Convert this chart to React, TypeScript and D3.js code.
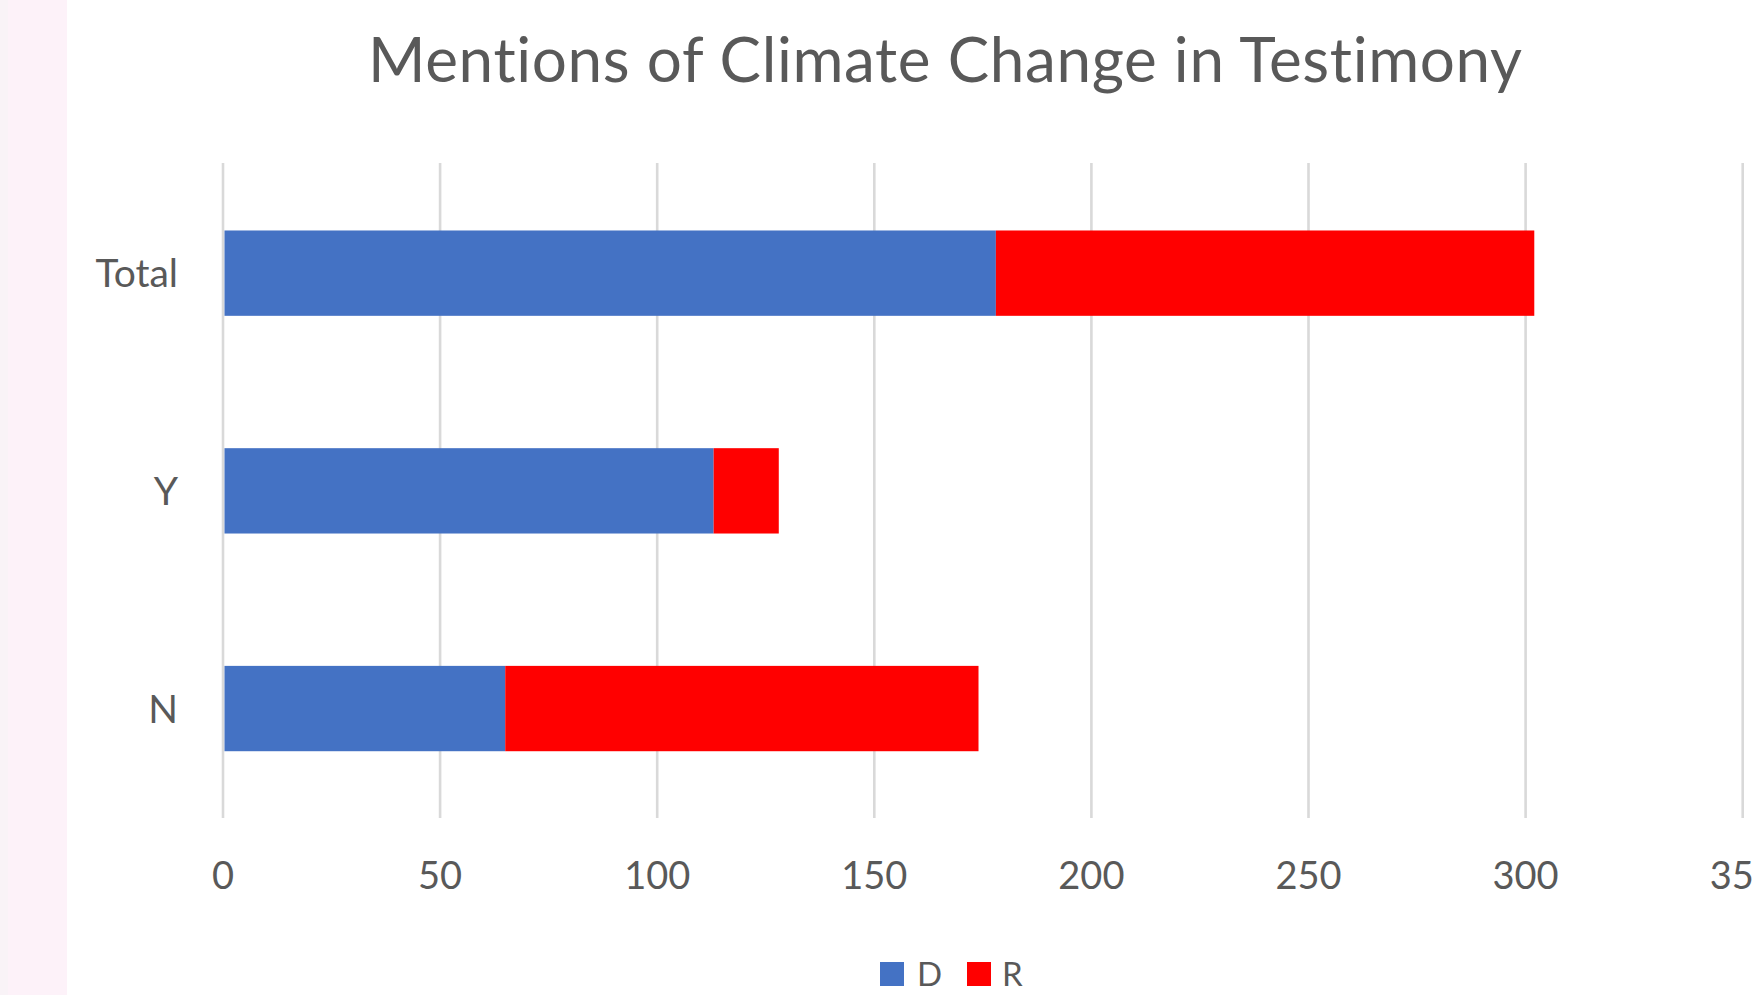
import React from "react";
import * as d3 from "d3";

const categories = ["Total", "Y", "N"];
const seriesNames = ["D", "R"];
const dValues = [178, 113, 65];
const rValues = [124, 15, 109];
const xTicks = [0, 50, 100, 150, 200, 250, 300, 350];
const colors = ["#4472C4", "#FF0000"];

const W = 1753;
const H = 995;
const FONT = "Lato, 'Open Sans', sans-serif";
const TEXT = "#595959";

export default function App() {
  const x = d3.scaleLinear().domain([0, 350]).range([223, 1742.7]);
  const y = d3
    .scaleBand<string>()
    .domain(categories)
    .range([164.3, 817.4])
    .paddingInner(0.608)
    .paddingOuter(0.304);

  const rows = categories.map((c, i) => ({ cat: c, D: dValues[i], R: rValues[i] }));
  const stack = d3.stack<any>().keys(seriesNames)(rows);

  const legendItems = [
    { name: "D", sq: 880, tx: 917 },
    { name: "R", sq: 967, tx: 1002 },
  ];

  return (
    <svg
      width={W}
      height={H}
      style={{
        position: "absolute",
        left: 0,
        top: 0,
        background: "#fff",
        fontVariantLigatures: "none",
        fontFeatureSettings: "'liga' 0",
      }}
      fontFamily={FONT}
    >
      <rect x={0} y={0} width={W} height={H} fill="#ffffff" />
      <rect x={0} y={0} width={67} height={H} fill="#fdf2f9" />
      <rect x={0} y={0} width={8} height={H} fill="#f9f3f7" />

      <text
        x={945}
        y={81.7}
        textAnchor="middle"
        fontSize={62}
        fill={TEXT}
        textLength={1154}
        lengthAdjust="spacing"
      >
        Mentions of Climate Change in Testimony
      </text>

      {xTicks.map((t) => (
        <line
          key={"g" + t}
          x1={x(t)}
          x2={x(t)}
          y1={163}
          y2={818}
          stroke="#d9d9d9"
          strokeWidth={2.6}
        />
      ))}

      {stack.map((layer, si) =>
        layer.map((d, i) => (
          <rect
            key={seriesNames[si] + i}
            x={x(d[0]) + (si === 0 ? 1.5 : 0)}
            width={x(d[1]) - x(d[0]) - (si === 0 ? 1.5 : 0)}
            y={y(categories[i])}
            height={y.bandwidth()}
            fill={colors[si]}
          />
        ))
      )}

      {categories.map((c) => (
        <text
          key={"c" + c}
          x={178}
          y={(y(c) as number) + y.bandwidth() / 2}
          dy="0.36em"
          textAnchor="end"
          fontSize={39}
          fill={TEXT}
        >
          {c}
        </text>
      ))}

      {xTicks.map((t) => (
        <text
          key={"t" + t}
          x={x(t)}
          y={889}
          textAnchor="middle"
          fontSize={38}
          fill={TEXT}
        >
          {t}
        </text>
      ))}

      {legendItems.map((l, i) => (
        <g key={"l" + l.name}>
          <rect x={l.sq} y={962} width={24} height={24} fill={colors[i]} />
          <text x={l.tx} y={985.5} fontSize={33} fill={TEXT}>
            {l.name}
          </text>
        </g>
      ))}
    </svg>
  );
}
